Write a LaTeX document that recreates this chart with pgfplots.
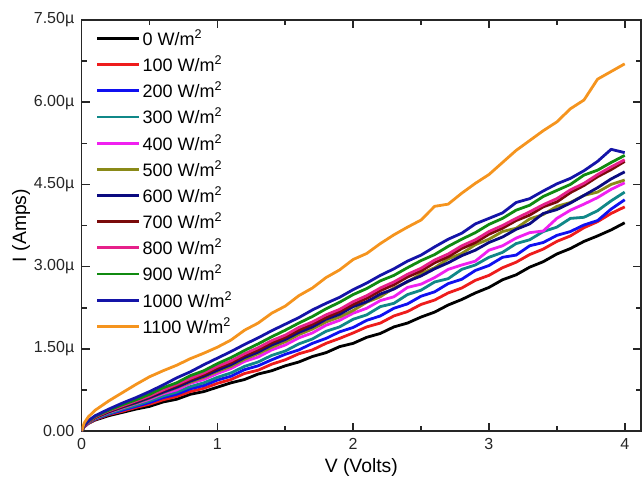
\documentclass[border=0pt]{standalone}
\usepackage{fontspec}
\setmainfont{Liberation Sans}
\usepackage{pgfplots}
\pgfplotsset{compat=1.18}
\usepackage{pgfplotstable}
\usetikzlibrary{calc}

\definecolor{cK}{HTML}{000000}
\definecolor{cR}{HTML}{EE1C1C}
\definecolor{cB}{HTML}{1010F0}
\definecolor{cT}{HTML}{108888}
\definecolor{cM}{HTML}{F020F0}
\definecolor{cO}{HTML}{8A8A18}
\definecolor{cN}{HTML}{0A0A80}
\definecolor{cW}{HTML}{7A0A0A}
\definecolor{cP}{HTML}{E6208A}
\definecolor{cG}{HTML}{108A10}
\definecolor{cY}{HTML}{1414A8}
\definecolor{cOr}{HTML}{F5941E}

\pgfplotstableread{
V K R B T M O N W P G Y Or
0 0 0 0 0 0 0 0 0 0 0 0 0
0.02 .08 .08 .09 .09 .09 .10 .10 .10 .10 .11 .11 .15
0.05 .14 .14 .15 .15 .16 .16 .17 .17 .17 .18 .19 .26
0.1 .20 .21 .22 .23 .24 .24 .25 .25 .26 .27 .28 .38
0.2 .28 .30 .31 .32 .34 .35 .35 .36 .37 .38 .40 .55
0.3 .34 .36 .38 .40 .42 .43 .44 .45 .46 .48 .51 .70
0.4 .40 .43 .45 .47 .50 .51 .52 .54 .55 .57 .61 .85
0.5 .45 .49 .52 .55 .58 .60 .61 .63 .64 .67 .72 .99
0.6 .53 .57 .61 .64 .68 .70 .71 .74 .75 .79 .84 1.10
0.7 .58 .63 .67 .71 .75 .79 .80 .83 .85 .88 .97 1.20
0.8 .67 .72 .77 .81 .87 .89 .91 .94 .96 1.01 1.08 1.32
0.9 .72 .78 .83 .88 .94 .98 1.00 1.03 1.06 1.10 1.21 1.42
1.0 .80 .87 .93 .98 1.05 1.09 1.11 1.15 1.18 1.23 1.33 1.53
1.1 .88 .94 1.00 1.06 1.14 1.18 1.21 1.25 1.28 1.34 1.45 1.66
1.2 .94 1.05 1.12 1.18 1.27 1.31 1.34 1.38 1.41 1.47 1.58 1.84
1.3 1.04 1.11 1.19 1.26 1.35 1.41 1.44 1.48 1.52 1.59 1.70 1.97
1.4 1.10 1.22 1.30 1.38 1.48 1.53 1.57 1.61 1.65 1.72 1.83 2.15
1.5 1.19 1.30 1.40 1.46 1.57 1.63 1.67 1.71 1.75 1.84 1.95 2.28
1.6 1.26 1.41 1.48 1.59 1.70 1.76 1.80 1.84 1.89 1.97 2.07 2.47
1.7 1.36 1.48 1.60 1.68 1.79 1.86 1.90 1.95 1.99 2.09 2.21 2.61
1.8 1.43 1.60 1.69 1.82 1.93 1.99 2.04 2.07 2.12 2.23 2.33 2.80
1.9 1.54 1.69 1.81 1.90 2.02 2.08 2.13 2.18 2.22 2.35 2.44 2.94
2.0 1.60 1.79 1.89 2.04 2.15 2.20 2.27 2.31 2.36 2.49 2.58 3.13
2.1 1.71 1.90 2.02 2.12 2.24 2.35 2.36 2.42 2.47 2.60 2.70 3.24
2.2 1.78 1.97 2.10 2.27 2.38 2.45 2.50 2.56 2.61 2.74 2.84 3.42
2.3 1.90 2.10 2.24 2.33 2.45 2.61 2.59 2.67 2.72 2.84 2.96 3.58
2.4 1.97 2.18 2.32 2.49 2.62 2.72 2.73 2.81 2.86 2.98 3.10 3.72
2.5 2.08 2.31 2.46 2.57 2.68 2.87 2.83 2.92 2.97 3.11 3.21 3.85
2.6 2.17 2.39 2.54 2.72 2.80 2.98 2.96 3.07 3.12 3.22 3.36 4.10
2.7 2.30 2.52 2.69 2.78 2.95 3.14 3.07 3.18 3.23 3.37 3.50 4.14
2.8 2.40 2.61 2.77 2.95 3.03 3.24 3.20 3.33 3.38 3.50 3.61 4.34
2.9 2.52 2.75 2.93 3.03 3.10 3.40 3.30 3.44 3.49 3.62 3.78 4.52
3.0 2.62 2.84 3.02 3.17 3.30 3.50 3.44 3.59 3.64 3.77 3.88 4.68
3.1 2.76 2.98 3.17 3.26 3.38 3.64 3.54 3.70 3.75 3.88 3.98 4.90
3.2 2.85 3.08 3.21 3.42 3.52 3.70 3.68 3.84 3.88 4.03 4.17 5.12
3.3 2.99 3.22 3.38 3.49 3.62 3.87 3.78 3.94 4.00 4.12 4.24 5.30
3.4 3.09 3.32 3.44 3.64 3.65 3.95 3.97 4.09 4.13 4.28 4.38 5.48
3.5 3.23 3.46 3.57 3.72 3.88 4.10 4.04 4.18 4.24 4.39 4.51 5.64
3.6 3.33 3.56 3.64 3.88 4.03 4.17 4.16 4.35 4.40 4.50 4.61 5.88
3.7 3.46 3.71 3.76 3.90 4.14 4.30 4.30 4.48 4.52 4.67 4.75 6.04
3.8 3.56 3.82 3.84 4.02 4.26 4.36 4.44 4.64 4.68 4.76 4.92 6.42
3.9 3.67 3.97 4.05 4.20 4.41 4.50 4.60 4.77 4.82 4.90 5.14 6.56
4.0 3.80 4.09 4.22 4.36 4.53 4.58 4.73 4.92 4.95 5.03 5.08 6.70
}\ivdata

\begin{document}
\begin{tikzpicture}
\begin{axis}[
  scale only axis,
  width=419.5pt, height=308.25pt,
  xmin=0, xmax=4.12, ymin=0, ymax=7.5,
  xtick={0,1,2,3,4}, minor x tick num=1,
  ytick={0,1.5,3,4.5,6,7.5},
  yticklabels={0.00,1.50µ,3.00µ,4.50µ,6.00µ,7.50µ},
  minor y tick num=1,
  tick align=inside,
  major tick length=6pt, minor tick length=3.75pt,
  axis line style={line width=1.2pt, black!85},
  every tick/.style={line width=1.2pt, black!85},
  /pgf/number format/assume math mode=true,
  tick label style={font=\fontsize{12}{14}\selectfont, black!85},
  yticklabel style={xshift=-2pt},
  xticklabel style={yshift=-2pt},
  xlabel={V (Volts)}, ylabel={I (Amps)},
  label style={font=\fontsize{14.5}{17}\selectfont},
  xlabel style={at={(axis description cs:0.5,0)}, anchor=center, yshift=-27pt},
  ylabel style={at={(axis description cs:-0.108,0.5)}, anchor=center},
  legend cell align=left,
  legend style={draw=none, fill=none, at={(axis description cs:0,1)}, anchor=north west,
    xshift=10.5pt, yshift=-5.5pt, row sep=3.3pt, inner sep=0pt,
    font=\fontsize{13.5}{16}\selectfont,
    nodes={inner sep=1.5pt}},
  legend image code/.code={\draw[#1, line width=2.1pt] (0pt,0pt) -- (31.5pt,0pt);},
  every axis plot/.append style={line width=2.1pt, line join=round},
]
\addplot[cK] table[x=V, y=K] {\ivdata}; \addlegendentry{0 W/m\textsuperscript{2}}
\addplot[cR] table[x=V, y=R] {\ivdata}; \addlegendentry{100 W/m\textsuperscript{2}}
\addplot[cB] table[x=V, y=B] {\ivdata}; \addlegendentry{200 W/m\textsuperscript{2}}
\addplot[cT] table[x=V, y=T] {\ivdata}; \addlegendentry{300 W/m\textsuperscript{2}}
\addplot[cM] table[x=V, y=M] {\ivdata}; \addlegendentry{400 W/m\textsuperscript{2}}
\addplot[cO] table[x=V, y=O] {\ivdata}; \addlegendentry{500 W/m\textsuperscript{2}}
\addplot[cN] table[x=V, y=N] {\ivdata}; \addlegendentry{600 W/m\textsuperscript{2}}
\addplot[cW] table[x=V, y=W] {\ivdata}; \addlegendentry{700 W/m\textsuperscript{2}}
\addplot[cP] table[x=V, y=P] {\ivdata}; \addlegendentry{800 W/m\textsuperscript{2}}
\addplot[cG] table[x=V, y=G] {\ivdata}; \addlegendentry{900 W/m\textsuperscript{2}}
\addplot[cY] table[x=V, y=Y] {\ivdata}; \addlegendentry{1000 W/m\textsuperscript{2}}
\addplot[cOr] table[x=V, y=Or] {\ivdata}; \addlegendentry{1100 W/m\textsuperscript{2}}
\end{axis}
\path[use as bounding box] ($(current axis.south west)+(-61.2pt,-37.5pt)$) rectangle ($(current axis.north east)+(1.5pt,15pt)$);
\end{tikzpicture}
\end{document}
